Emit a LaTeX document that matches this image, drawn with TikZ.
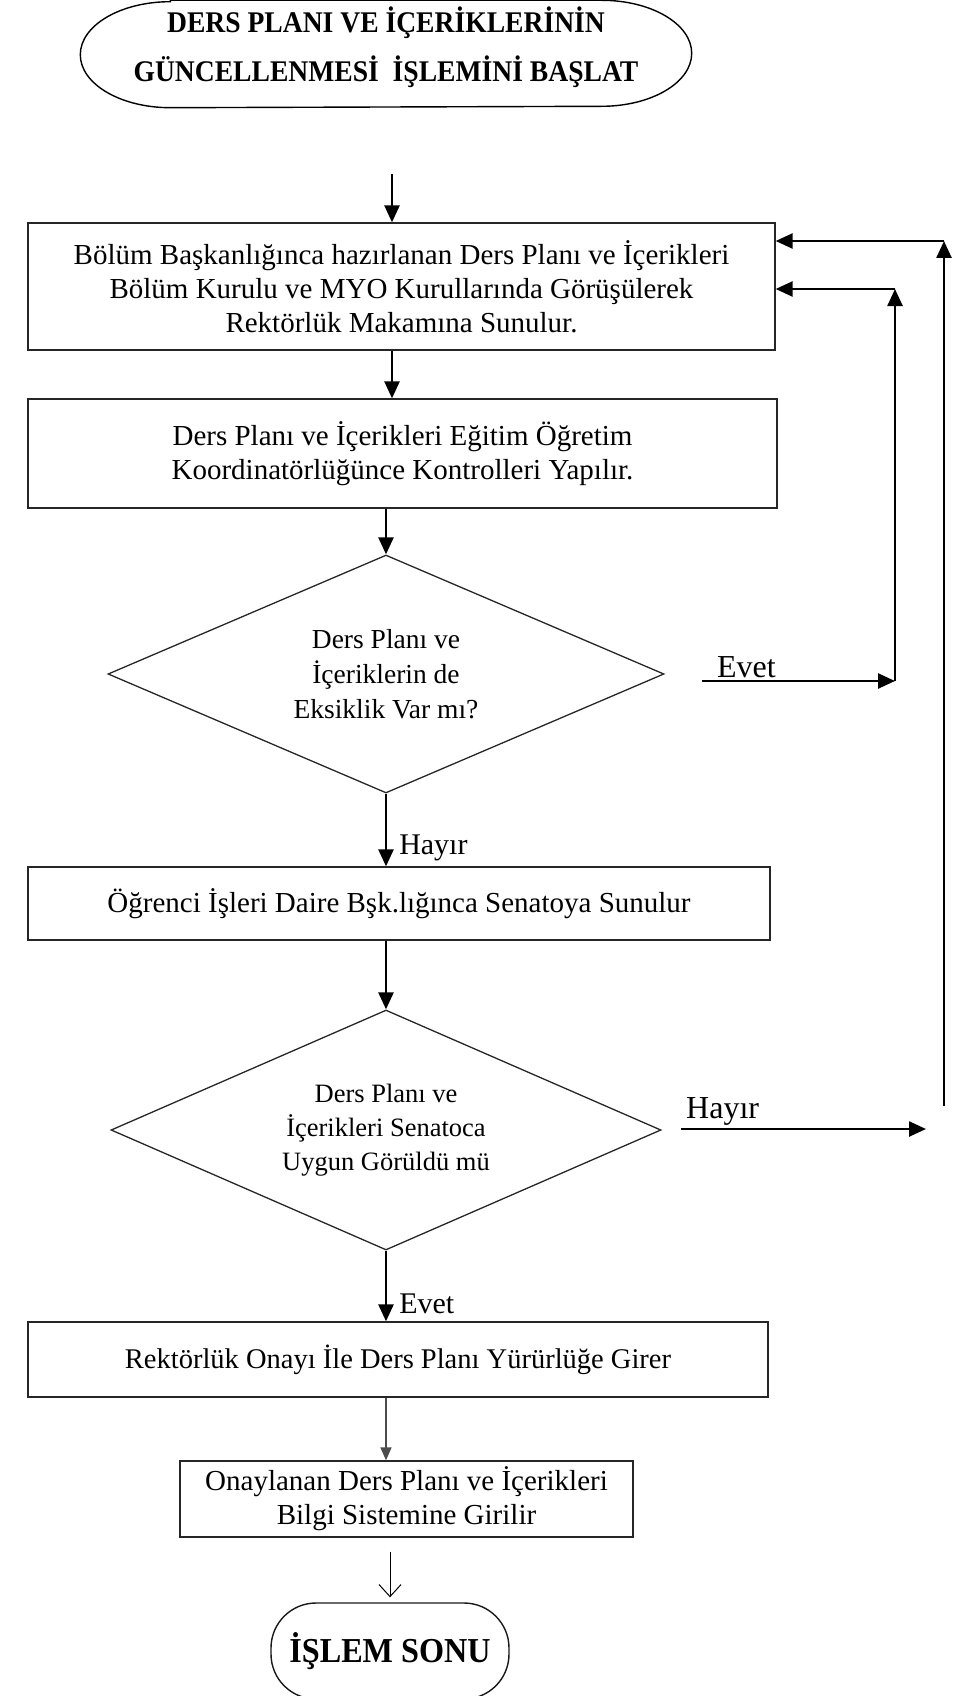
\documentclass[tikz,border=0pt]{standalone}
\usepackage{fontspec}
\setmainfont{Liberation Serif}
\newfontfamily\titlefont[FakeStretch=0.92]{Liberation Serif}
\usetikzlibrary{shapes.geometric}
\usetikzlibrary{arrows.meta}

\begin{document}
\begin{tikzpicture}
	[x=1pt, y=-1pt, thick,
	 main/.style = {draw=black!85, line width=1.3pt, rectangle, inner sep=0pt, align=center, font=\fontsize{29}{34}\selectfont},
	 dec/.style = {draw=black!85, line width=1.3pt, diamond, aspect=2.35, inner sep=0pt, align=center, font=\fontsize{27.5}{35}\selectfont},
	 term/.style = {line width=1.4pt, rectangle, inner sep=0pt, align=center},
	 arr/.style = {line width=2.5pt, -{Triangle[length=17pt,width=15pt]}},
	 lbl/.style = {font=\fontsize{30}{32}\selectfont, inner sep=2pt}]
	\useasboundingbox (0,0) rectangle (955,1696);
	\node[term, minimum width=610pt, minimum height=106pt, text depth=20pt, font=\titlefont\bfseries\fontsize{30}{49}\selectfont] (1) at (386,54) {DERS PLANI VE İÇERİKLERİNİN\\GÜNCELLENMESİ \ İŞLEMİNİ BAŞLAT};
	\draw[line width=1.4pt] ([xshift=90pt]1.north west) -- ([xshift=-90pt]1.north east) arc[start angle=90, end angle=-90, x radius=90pt, y radius=53pt] -- ([xshift=90pt]1.south west) arc[start angle=270, end angle=90, x radius=90pt, y radius=53pt] -- cycle;
	\node[main, minimum width=747pt, minimum height=127pt] (2) at (401.5,286.5) {Bölüm Başkanlığınca hazırlanan Ders Planı ve İçerikleri\\Bölüm Kurulu ve MYO Kurullarında Görüşülerek\\Rektörlük Makamına Sunulur.};
	\node[main, minimum width=749pt, minimum height=109pt] (3) at (402.5,453.5) {Ders Planı ve İçerikleri Eğitim Öğretim\\Koordinatörlüğünce Kontrolleri Yapılır.};
	\node[dec, minimum width=556pt, minimum height=238pt] (4) at (386,674) {Ders Planı ve\\İçeriklerin de\\Eksiklik Var mı?};
	\node[main, minimum width=742pt, minimum height=73pt] (5) at (399,903.5) {Öğrenci İşleri Daire Bşk.lığınca Senatoya Sunulur};
	\node[dec, minimum width=550pt, minimum height=240pt, font=\fontsize{26.5}{34}\selectfont] (6) at (386,1130) {Ders Planı ve\\İçerikleri Senatoca\\Uygun Görüldü mü};
	\node[main, minimum width=740pt, minimum height=75pt, font=\fontsize{28.5}{34}\selectfont] (7) at (398,1359.5) {Rektörlük Onayı İle Ders Planı Yürürlüğe Girer};
	\node[main, minimum width=453pt, minimum height=76pt] (8) at (406.5,1499) {Onaylanan Ders Planı ve İçerikleri\\Bilgi Sistemine Girilir};
	\node[term, draw=black!90, rounded corners=45pt, minimum width=238pt, minimum height=96pt, font=\titlefont\bfseries\fontsize{35}{38}\selectfont] (9) at (390,1651) {İŞLEM SONU};
	\coordinate (s) at (392,174);
	\coordinate (e1) at (702,681);
	\coordinate (e2) at (895,681);
	\coordinate (e3) at (895,289);
	\coordinate (h1) at (681,1129);
	\coordinate (h2) at (926,1129);
	\coordinate (h3) at (944,1106);
	\coordinate (h4) at (944,241);
	\draw[arr] (s) -- (2.north -| s);
	\draw[arr] (2.south -| s) -- (3.north -| s);
	\draw[arr] (3.south -| 4.north) -- (4.north);
	\draw[arr] (4.south) -- node[near end, right=10pt, lbl] {Hayır} (5.north -| 4.south);
	\draw[arr] (5.south -| 6.north) -- (6.north);
	\draw[arr] (6.south) -- node[near end, right=10pt, lbl] {Evet} (7.north -| 6.south);
	\draw[line width=1.6pt, black!70, -{Triangle[length=13pt,width=11pt]}] (7.south -| 6.south) -- (8.north -| 6.south);
	\draw[line width=1pt, -{Straight Barb[length=12pt,width=22pt]}, shorten <=14pt, shorten >=5pt] (8.south -| 9.north) -- (9.north);
	\draw[arr] (e1) -- node[above, pos=.23, lbl, font=\fontsize{32}{34}\selectfont] {Evet} (e2);
	\draw[arr] (e2) -- (e3);
	\draw[arr] (e3) -- (2.east |- e3);
	\draw[arr] (h1) -- node[above, pos=.17, lbl, font=\fontsize{32}{34}\selectfont] {Hayır} (h2);
	\draw[arr] (h3) -- (h4);
	\draw[arr] (h4) -- (2.east |- h4);
\end{tikzpicture}
\end{document}
